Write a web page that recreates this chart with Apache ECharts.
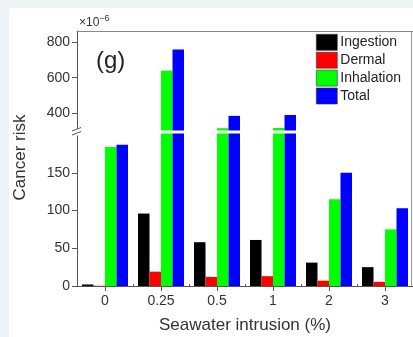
<!DOCTYPE html>
<html><head><meta charset="utf-8">
<script src="https://cdn.jsdelivr.net/npm/echarts@6/dist/echarts.min.js"></script>
<style>
html,body{margin:0;padding:0;background:#eef3f5;}
#wrap{position:absolute;left:9px;top:8px;right:0;bottom:0;background:#fff;}
#c{position:absolute;left:0;top:0;width:413px;height:337px;}
</style></head>
<body><div id="wrap"></div><div id="c"></div>
<script>
const categories = ['0', '0.25', '0.5', '1', '2', '3'];
const ingestion  = [2, 96, 58, 61, 31, 25];
const dermal     = [0.3, 19, 12, 13, 7, 5.5];
const inhalation = [184, 640, 313, 314, 115, 75];
const total      = [187, 760, 383, 388, 150, 103];
const seriesNames = ['Ingestion', 'Dermal', 'Inhalation', 'Total'];
const seriesColors = ['#000000', '#ff0000', '#00ff00', '#0000ff'];
const upperTicks = [400, 600, 800];
const upperMinor = [500, 700];
const lowerTicks = [0, 50, 100, 150];
const lowerMinor = [25, 75, 125, 175];

const FONT = "'Liberation Sans', Arial, sans-serif";
const AX = '#555';
const values = [ingestion, dermal, inhalation, total];
const UPPER_MIN = 300, UPPER_MAX = 865, LOWER_MAX = 202;

const chart = echarts.init(document.getElementById('c'), null, {renderer: 'canvas'});
const series = [];
values.forEach((arr, i) => {
  series.push({
    name: seriesNames[i], type: 'bar', xAxisIndex: 1, yAxisIndex: 2,
    data: arr, barWidth: 11.5, barGap: '0%', clip: true,
    itemStyle: {color: seriesColors[i]}, animation: false
  });
});
values.forEach((arr, i) => {
  series.push({
    name: seriesNames[i], type: 'bar', xAxisIndex: 0, yAxisIndex: 0,
    data: arr.map(v => v > UPPER_MIN ? v : null), barWidth: 11.5, barGap: '0%', clip: true,
    itemStyle: {color: seriesColors[i]}, animation: false
  });
});

const option = {
  backgroundColor: 'transparent',
  animation: false,
  textStyle: {fontFamily: FONT},
  grid: [
    {left: 77, top: 31, width: 339, height: 99.5},
    {left: 77, top: 133.5, width: 339, height: 152.5}
  ],
  legend: {
    data: seriesNames, orient: 'vertical', left: 316, top: 34,
    itemWidth: 21, itemHeight: 16, itemGap: 1.3, padding: 0,
    icon: 'rect', selectedMode: false,
    itemStyle: {borderColor: '#333', borderWidth: 0.6},
    textStyle: {fontSize: 14, color: '#222', fontFamily: FONT, padding: [0, 0, 0, -2]}
  },
  xAxis: [
    {type: 'category', gridIndex: 0, data: categories, position: 'top',
     axisLine: {show: true, lineStyle: {color: '#888', width: 1}},
     axisTick: {show: false}, axisLabel: {show: false}, splitLine: {show: false}},
    {type: 'category', gridIndex: 1, data: categories, position: 'bottom',
     axisLine: {show: true, onZero: false, lineStyle: {color: AX, width: 1}},
     axisTick: {show: true, alignWithLabel: true, length: 5, lineStyle: {color: AX}},
     axisLabel: {fontSize: 14, color: '#333', margin: 8, fontFamily: FONT},
     name: 'Seawater intrusion (%)', nameLocation: 'middle', nameGap: 31,
     nameTextStyle: {fontSize: 17, color: '#333', fontFamily: FONT},
     splitLine: {show: false}},
    {type: 'category', gridIndex: 1, data: categories, position: 'bottom',
     axisLine: {show: false},
     axisTick: {show: true, inside: true, length: 2, lineStyle: {color: AX}},
     axisLabel: {show: false}, splitLine: {show: false}}
  ],
  yAxis: [
    {type: 'value', gridIndex: 0, min: UPPER_MIN, max: UPPER_MAX,
     axisLine: {show: true, lineStyle: {color: AX, width: 1}},
     axisTick: {show: true, length: 5, customValues: upperTicks, lineStyle: {color: AX}},
     axisLabel: {fontSize: 14, color: '#333', margin: 7, customValues: upperTicks, fontFamily: FONT},
     splitLine: {show: false}},
    {type: 'value', gridIndex: 0, min: UPPER_MIN, max: UPPER_MAX,
     axisLine: {show: false},
     axisTick: {show: true, length: 3, customValues: upperMinor, lineStyle: {color: AX}},
     axisLabel: {show: false}, splitLine: {show: false}},
    {type: 'value', gridIndex: 1, min: 0, max: LOWER_MAX,
     axisLine: {show: true, lineStyle: {color: AX, width: 1}},
     axisTick: {show: true, length: 5, customValues: lowerTicks, lineStyle: {color: AX}},
     axisLabel: {fontSize: 14, color: '#333', margin: 7, customValues: lowerTicks, fontFamily: FONT},
     splitLine: {show: false}},
    {type: 'value', gridIndex: 1, min: 0, max: LOWER_MAX,
     axisLine: {show: false},
     axisTick: {show: true, length: 3, customValues: lowerMinor, lineStyle: {color: AX}},
     axisLabel: {show: false}, splitLine: {show: false}}
  ],
  graphic: [
    {type: 'line', shape: {x1: 411.5, y1: 31, x2: 411.5, y2: 286}, style: {stroke: '#999', lineWidth: 1}, z: -1},
    {type: 'rect', shape: {x: 71, y: 128.5, width: 10, height: 7}, style: {fill: '#fff'}, z: 100},
    {type: 'line', shape: {x1: 72, y1: 131, x2: 81, y2: 127.5}, style: {stroke: '#555', lineWidth: 1}, z: 101},
    {type: 'line', shape: {x1: 72, y1: 135, x2: 81, y2: 131.5}, style: {stroke: '#555', lineWidth: 1}, z: 101},
    {type: 'text', x: 20, y: 157.5, rotation: Math.PI / 2,
     style: {text: 'Cancer risk', fontSize: 17, fill: '#333', fontFamily: FONT, textAlign: 'center', textVerticalAlign: 'middle'}},
    {type: 'text', x: 79, y: 14,
     style: {text: '{a|×10}{b|−6}', fontFamily: FONT,
             rich: {a: {fontSize: 12, fill: '#333', fontFamily: FONT, verticalAlign: 'bottom'},
                    b: {fontSize: 9, fill: '#333', fontFamily: FONT, verticalAlign: 'top', padding: [0, 0, 6, 0]}}}},
    {type: 'text', x: 96, y: 61,
     style: {text: '(g)', fontSize: 24, fill: '#222', fontFamily: FONT, textVerticalAlign: 'middle'}}
  ],
  series: series
};
chart.setOption(option);
</script>
</body></html>
